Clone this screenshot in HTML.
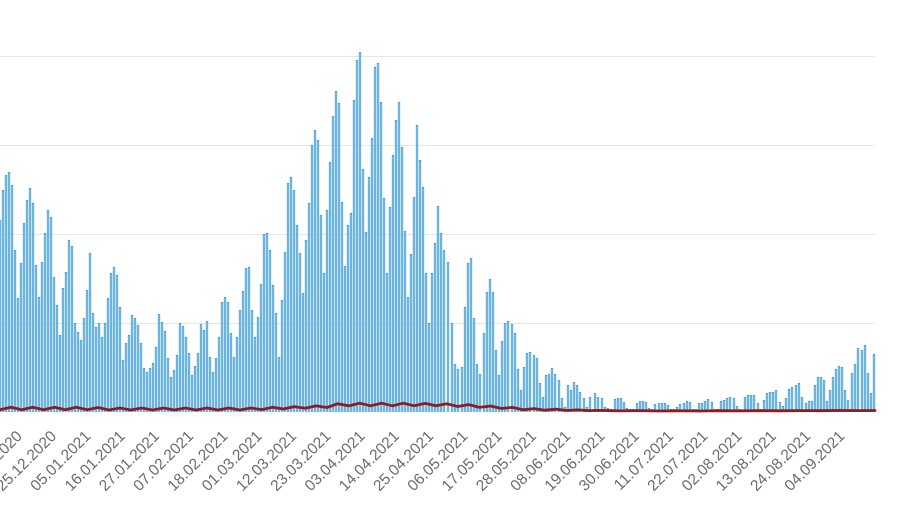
<!DOCTYPE html>
<html>
<head>
<meta charset="utf-8">
<style>
html,body{margin:0;padding:0;background:#fff;}
svg{display:block;}
text{font-family:"Liberation Sans",sans-serif;font-size:15.5px;fill:#6a6a6a;}
</style>
</head>
<body>
<svg width="900" height="505" viewBox="0 0 900 505" xmlns="http://www.w3.org/2000/svg">
<rect width="900" height="505" fill="#fff"/>
<g stroke="#e6e6e6" stroke-width="1">
<line x1="0" y1="56.5" x2="875" y2="56.5"/>
<line x1="0" y1="145.5" x2="875" y2="145.5"/>
<line x1="0" y1="234.5" x2="875" y2="234.5"/>
<line x1="0" y1="323.5" x2="875" y2="323.5"/>
</g>
<g fill="none" stroke-linecap="butt">
<path stroke="#4a9fd6" stroke-width="2.3" d="M0 412V220M3 412V190M6 412V175M9 412V172M12 412V185M15 412V250M18 412V298M21 412V263M24 412V223M27 412V200M30 412V188M33 412V203M36 412V265M39 412V297M42 412V262M45 412V233M48 412V210M51 412V217M54 412V277M57 412V305M60 412V335M63 412V288M66 412V272M69 412V240M72 412V246M75 412V323M78 412V332M81 412V340M84 412V318M87 412V290M90 412V253M93 412V313M96 412V327M99 412V323M102 412V337M105 412V323M108 412V298M111 412V273M114 412V267M117 412V275M120 412V307M123 412V360M126 412V343M129 412V335M132 412V315M135 412V318M138 412V325M141 412V343M144 412V368M147 412V372M150 412V368M153 412V363M156 412V347M159 412V314M162 412V322M165 412V331M168 412V358M171 412V377M174 412V370M177 412V355M180 412V323M183 412V326M186 412V337M189 412V353M192 412V375M195 412V366M198 412V353M201 412V324M204 412V330M207 412V321M210 412V357M213 412V372M216 412V358M219 412V337M222 412V302M225 412V297M228 412V302M231 412V333M234 412V357M237 412V337M240 412V310M243 412V291M246 412V268M249 412V267M252 412V310M255 412V337M258 412V317M261 412V284M264 412V234M267 412V233M270 412V250M273 412V285M276 412V313M279 412V357M282 412V300M285 412V252M288 412V183M291 412V177M294 412V190M297 412V225M300 412V253M303 412V293M306 412V240M309 412V203M312 412V145M315 412V130M318 412V140M321 412V215M324 412V273M327 412V210M330 412V162M333 412V116M336 412V91M339 412V103M342 412V202M345 412V266M348 412V225M351 412V213M354 412V100M357 412V60M360 412V52M363 412V169M366 412V232M369 412V177M372 412V138M375 412V67M378 412V63M381 412V102M384 412V198M387 412V273M390 412V207M393 412V155M396 412V120M399 412V102M402 412V147M405 412V231M408 412V297M411 412V254M414 412V197M417 412V125M420 412V160M423 412V187M426 412V273M429 412V323M432 412V273M435 412V243M438 412V206M441 412V233M444 412V250M448 412V262M452 412V323M455 412V364M458 412V369M462 412V367M465 412V307M468 412V263M471 412V258M474 412V318M477 412V364M480 412V374M484 412V333M487 412V292M490 412V279M493 412V292M496 412V350M499 412V375M502 412V341M505 412V323M508 412V321M512 412V324M515 412V333M518 412V369M521 412V390M524 412V367M527 412V353M530 412V352M534 412V355M537 412V358M540 412V383M543 412V397M546 412V375M549 412V374M552 412V368M555 412V374M559 412V380M562 412V398M565 412V407M568 412V385M571 412V390M574 412V382M577 412V385M580 412V392M584 412V398M587 412V407M590 412V397M595 412V393M598 412V397M602 412V398M605 412V407M608 412V408M611 412V409M615 412V399M618 412V398M621 412V398M624 412V402M627 412V408M630 412V409M633 412V409M637 412V403M640 412V401M643 412V401M646 412V402M649 412V408M652 412V409M655 412V404M659 412V403M662 412V403M665 412V403M668 412V405M671 412V409M674 412V409M677 412V407M680 412V404M684 412V403M687 412V401M690 412V402M693 412V409M696 412V409M699 412V403M702 412V403M705 412V401M708 412V399M712 412V402M715 412V409M718 412V409M721 412V401M724 412V400M727 412V398M730 412V397M734 412V398M737 412V406M740 412V409M745 412V397M748 412V395M751 412V395M754 412V395M758 412V403M761 412V409M764 412V400M767 412V393M770 412V392M773 412V392M776 412V390M780 412V402M783 412V406M786 412V398M789 412V389M792 412V387M796 412V385M799 412V383M802 412V397M806 412V403M809 412V401M812 412V401M815 412V385M818 412V377M821 412V377M824 412V380M827 412V401M830 412V390M833 412V377M836 412V369M839 412V366M842 412V367M845 412V390M848 412V400M852 412V373M855 412V364M858 412V348M862 412V350M865 412V345M868 412V373M871 412V393M874 412V354"/>
<path stroke="#92cff2" stroke-width="0.9" d="M0 412V221M3 412V191M6 412V176M9 412V173M12 412V186M15 412V251M18 412V299M21 412V264M24 412V224M27 412V201M30 412V189M33 412V204M36 412V266M39 412V298M42 412V263M45 412V234M48 412V211M51 412V218M54 412V278M57 412V306M60 412V336M63 412V289M66 412V273M69 412V241M72 412V247M75 412V324M78 412V333M81 412V341M84 412V319M87 412V291M90 412V254M93 412V314M96 412V328M99 412V324M102 412V338M105 412V324M108 412V299M111 412V274M114 412V268M117 412V276M120 412V308M123 412V361M126 412V344M129 412V336M132 412V316M135 412V319M138 412V326M141 412V344M144 412V369M147 412V373M150 412V369M153 412V364M156 412V348M159 412V315M162 412V323M165 412V332M168 412V359M171 412V378M174 412V371M177 412V356M180 412V324M183 412V327M186 412V338M189 412V354M192 412V376M195 412V367M198 412V354M201 412V325M204 412V331M207 412V322M210 412V358M213 412V373M216 412V359M219 412V338M222 412V303M225 412V298M228 412V303M231 412V334M234 412V358M237 412V338M240 412V311M243 412V292M246 412V269M249 412V268M252 412V311M255 412V338M258 412V318M261 412V285M264 412V235M267 412V234M270 412V251M273 412V286M276 412V314M279 412V358M282 412V301M285 412V253M288 412V184M291 412V178M294 412V191M297 412V226M300 412V254M303 412V294M306 412V241M309 412V204M312 412V146M315 412V131M318 412V141M321 412V216M324 412V274M327 412V211M330 412V163M333 412V117M336 412V92M339 412V104M342 412V203M345 412V267M348 412V226M351 412V214M354 412V101M357 412V61M360 412V53M363 412V170M366 412V233M369 412V178M372 412V139M375 412V68M378 412V64M381 412V103M384 412V199M387 412V274M390 412V208M393 412V156M396 412V121M399 412V103M402 412V148M405 412V232M408 412V298M411 412V255M414 412V198M417 412V126M420 412V161M423 412V188M426 412V274M429 412V324M432 412V274M435 412V244M438 412V207M441 412V234M444 412V251M448 412V263M452 412V324M455 412V365M458 412V370M462 412V368M465 412V308M468 412V264M471 412V259M474 412V319M477 412V365M480 412V375M484 412V334M487 412V293M490 412V280M493 412V293M496 412V351M499 412V376M502 412V342M505 412V324M508 412V322M512 412V325M515 412V334M518 412V370M521 412V391M524 412V368M527 412V354M530 412V353M534 412V356M537 412V359M540 412V384M543 412V398M546 412V376M549 412V375M552 412V369M555 412V375M559 412V381M562 412V399M565 412V408M568 412V386M571 412V391M574 412V383M577 412V386M580 412V393M584 412V399M587 412V408M590 412V398M595 412V394M598 412V398M602 412V399M605 412V408M608 412V409M615 412V400M618 412V399M621 412V399M624 412V403M627 412V409M637 412V404M640 412V402M643 412V402M646 412V403M649 412V409M655 412V405M659 412V404M662 412V404M665 412V404M668 412V406M677 412V408M680 412V405M684 412V404M687 412V402M690 412V403M699 412V404M702 412V404M705 412V402M708 412V400M712 412V403M721 412V402M724 412V401M727 412V399M730 412V398M734 412V399M737 412V407M745 412V398M748 412V396M751 412V396M754 412V396M758 412V404M764 412V401M767 412V394M770 412V393M773 412V393M776 412V391M780 412V403M783 412V407M786 412V399M789 412V390M792 412V388M796 412V386M799 412V384M802 412V398M806 412V404M809 412V402M812 412V402M815 412V386M818 412V378M821 412V378M824 412V381M827 412V402M830 412V391M833 412V378M836 412V370M839 412V367M842 412V368M845 412V391M848 412V401M852 412V374M855 412V365M858 412V349M862 412V351M865 412V346M868 412V374M871 412V394M874 412V355"/>
</g>
<polyline fill="none" stroke="#8c1c1f" stroke-width="2.8" stroke-linejoin="round" stroke-linecap="round"
points="0,409.7 10.9,407.3 21.8,409.7 32.7,407.3 43.6,409.7 54.5,407.3 65.4,409.7 76.3,407.3 87.2,409.7 98.1,407.5 109,410 119.9,408 130.8,410 141.7,408 152.6,410 163.5,408 174.4,410 185.3,408 196.2,410 207.1,408 218,410 228.9,408 239.8,410 250.7,408 261.6,409.6 272.5,407.3 283.4,409 294.3,406.6 305.2,408.2 316.1,405.9 327,407.5 337.9,403.7 348.8,405.9 359.7,403.2 370.6,405.8 381.5,403.2 392.4,405.8 403.3,403.2 414.2,405.8 425.1,403.4 436,405.8 446.9,403.8 457.8,406.5 468.7,404.6 479.6,407.4 490.5,406 501.4,408.5 512.3,407.4 523.2,409.8 534.1,408.6 545,410.2 555.9,409.2 566.8,410.5 577.7,409.9 588.6,410.6 599.5,410.4 620,410.9 640,410.6 660,411 680,410.8 700,411 720,410.7 740,410.9 760,410.7 780,410.8 800,410.6 820,410.7 840,410.5 860,410.6 875,410.5"/>
<g>
<text text-anchor="end" transform="translate(23,437) rotate(-45)">14.12.2020</text>
<text text-anchor="end" transform="translate(57.2,437) rotate(-45)">25.12.2020</text>
<text text-anchor="end" transform="translate(91.5,437) rotate(-45)">05.01.2021</text>
<text text-anchor="end" transform="translate(125.8,437) rotate(-45)">16.01.2021</text>
<text text-anchor="end" transform="translate(160.1,437) rotate(-45)">27.01.2021</text>
<text text-anchor="end" transform="translate(194.3,437) rotate(-45)">07.02.2021</text>
<text text-anchor="end" transform="translate(228.6,437) rotate(-45)">18.02.2021</text>
<text text-anchor="end" transform="translate(262.9,437) rotate(-45)">01.03.2021</text>
<text text-anchor="end" transform="translate(297.2,437) rotate(-45)">12.03.2021</text>
<text text-anchor="end" transform="translate(331.5,437) rotate(-45)">23.03.2021</text>
<text text-anchor="end" transform="translate(365.7,437) rotate(-45)">03.04.2021</text>
<text text-anchor="end" transform="translate(400,437) rotate(-45)">14.04.2021</text>
<text text-anchor="end" transform="translate(434.3,437) rotate(-45)">25.04.2021</text>
<text text-anchor="end" transform="translate(468.5,437) rotate(-45)">06.05.2021</text>
<text text-anchor="end" transform="translate(502.8,437) rotate(-45)">17.05.2021</text>
<text text-anchor="end" transform="translate(537.1,437) rotate(-45)">28.05.2021</text>
<text text-anchor="end" transform="translate(571.4,437) rotate(-45)">08.06.2021</text>
<text text-anchor="end" transform="translate(605.6,437) rotate(-45)">19.06.2021</text>
<text text-anchor="end" transform="translate(639.9,437) rotate(-45)">30.06.2021</text>
<text text-anchor="end" transform="translate(674.2,437) rotate(-45)">11.07.2021</text>
<text text-anchor="end" transform="translate(708.5,437) rotate(-45)">22.07.2021</text>
<text text-anchor="end" transform="translate(742.7,437) rotate(-45)">02.08.2021</text>
<text text-anchor="end" transform="translate(777,437) rotate(-45)">13.08.2021</text>
<text text-anchor="end" transform="translate(811.3,437) rotate(-45)">24.08.2021</text>
<text text-anchor="end" transform="translate(845.5,437) rotate(-45)">04.09.2021</text>
</g>
</svg>
</body>
</html>
